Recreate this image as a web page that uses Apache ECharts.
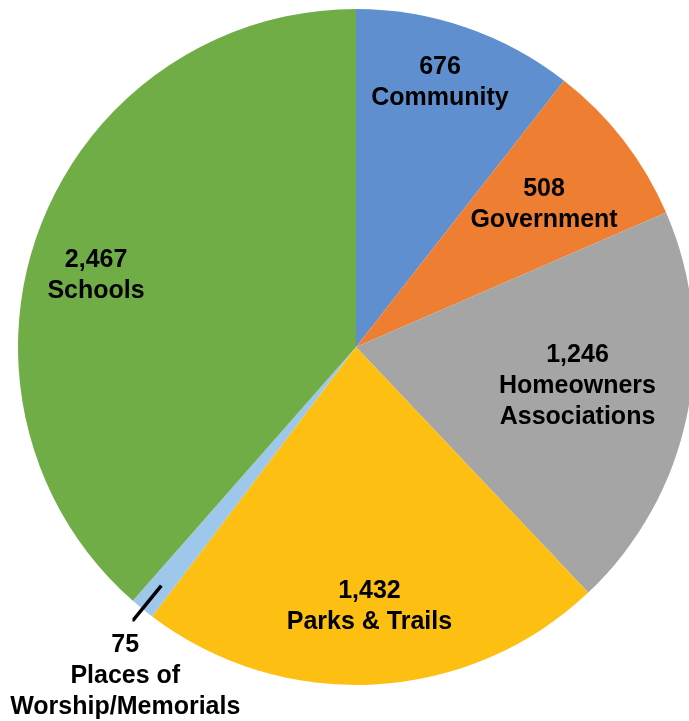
<!DOCTYPE html>
<html><head><meta charset="utf-8">
<script src="https://cdn.jsdelivr.net/npm/echarts@6/dist/echarts.min.js"></script>
<style>html,body{margin:0;padding:0;background:#fff}#c{width:689px;height:721px}</style>
</head><body><div id="c"></div>
<script>
const categories = ['Community', 'Government', 'Homeowners\nAssociations', 'Parks & Trails', 'Places of\nWorship/Memorials', 'Schools'];
const values = [676, 508, 1246, 1432, 75, 2467];
const colors = ['#5F8FCE', '#EE7E32', '#A5A5A5', '#FDC012', '#9DC8EC', '#70AD47'];

// label nudges from the default inside position (dx, dy)
const nudges = [[28, -102], [52, -37], [53, 5], [4, 88], [-122, 196], [-99, -11]];
const leaderIndex = 4;

const fmt = v => v.toLocaleString('en-US');
const chart = echarts.init(document.getElementById('c'));
const center = [356, 347];
const textStyle = { fontFamily: 'Liberation Sans, Arial, sans-serif', fontWeight: 'bold', fontSize: 25, lineHeight: 31, color: '#000' };

const mainData = categories.map((c, i) => ({ name: c, value: values[i], itemStyle: { color: colors[i] } }));
const leaderData = categories.map((c, i) => ({
  name: c, value: values[i],
  label: { show: i === leaderIndex },
  labelLine: { show: i === leaderIndex }
}));

chart.setOption({
  animation: false,
  backgroundColor: '#fff',
  series: [
    {
      type: 'pie', center: center, radius: 338, startAngle: 90, clockwise: true,
      avoidLabelOverlap: false, silent: true,
      data: mainData,
      itemStyle: { borderWidth: 0 },
      label: Object.assign({ show: true, position: 'inside', align: 'center',
        formatter: p => fmt(p.value) + '\n' + p.name }, textStyle),
      labelLine: { show: false },
      labelLayout: p => ({ dx: nudges[p.dataIndex][0], dy: nudges[p.dataIndex][1] })
    },
    {
      type: 'pie', center: center, radius: 308, startAngle: 90, clockwise: true,
      avoidLabelOverlap: false, silent: true, z: 5,
      data: leaderData,
      itemStyle: { color: 'rgba(0,0,0,0)', borderWidth: 0 },
      label: { position: 'outside', formatter: ' ', fontSize: 10, color: 'rgba(0,0,0,0)' },
      labelLine: { length: 44, length2: 1, smooth: false, lineStyle: { color: '#000', width: 3.5 } }
    }
  ]
});
</script>
</body></html>
